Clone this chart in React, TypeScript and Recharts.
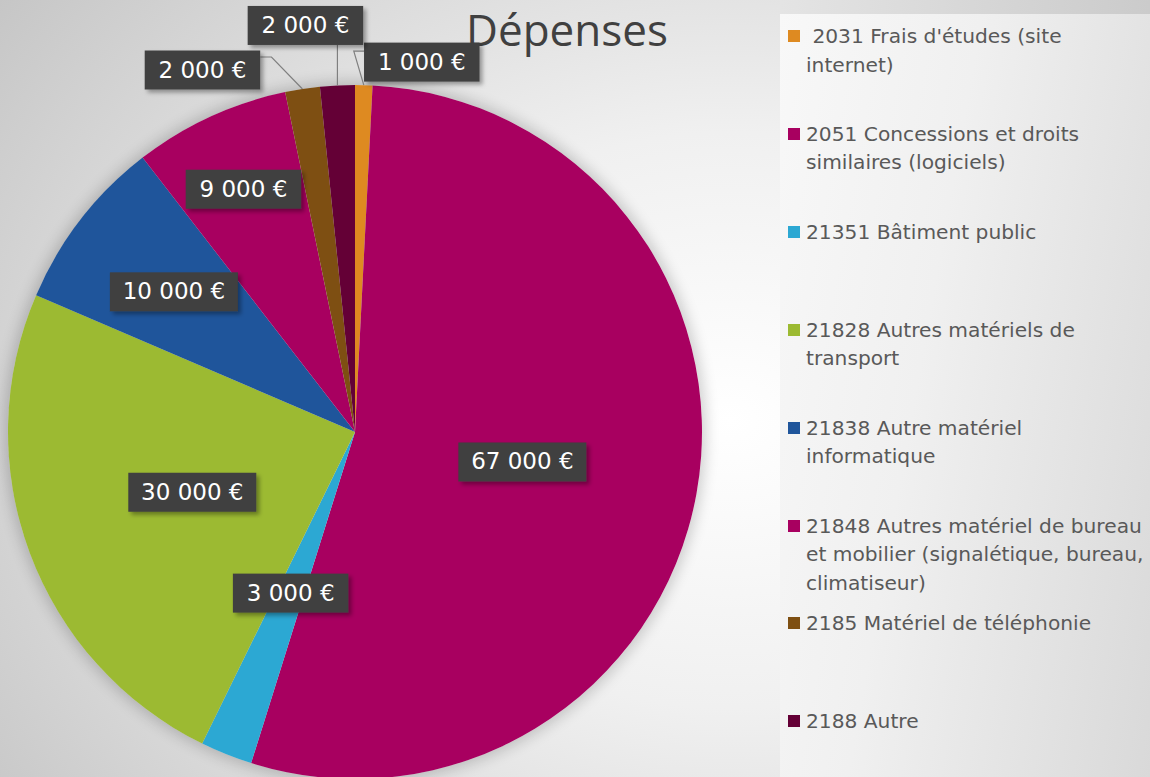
import { PieChart, Pie, Cell, Legend } from "recharts";

const categories = [
  " 2031 Frais d'études (site\ninternet)",
  "2051 Concessions et droits\nsimilaires (logiciels)",
  "21351 Bâtiment public",
  "21828 Autres matériels de\ntransport",
  "21838 Autre matériel\ninformatique",
  "21848 Autres matériel de bureau\net mobilier (signalétique, bureau,\nclimatiseur)",
  "2185 Matériel de téléphonie",
  "2188 Autre",
];
const values = [1000, 67000, 3000, 30000, 10000, 9000, 2000, 2000];
const valueLabels = ["1 000 €", "67 000 €", "3 000 €", "30 000 €", "10 000 €", "9 000 €", "2 000 €", "2 000 €"];
const COLORS = ["#DE8A21", "#A80060", "#2CA8D3", "#9CBA32", "#1F559B", "#A80060", "#7E4F12", "#640036"];

const data = categories.map((name, i) => ({ name, value: values[i] }));

const RAD = Math.PI / 180;

// label placement (layout only): inner labels sit at a fraction of the radius,
// outer labels are offset from the slice edge with a leader line
type Place =
  | { kind: "in"; r: number }
  | { kind: "out"; dx: number; dy: number; ex: number; ey: number; side: "left" | "right" | "bottom" };
const placement: Place[] = [
  { kind: "out", dx: 58, dy: -23, ex: -10, ey: -34, side: "left" },
  { kind: "in", r: 0.49 },
  { kind: "in", r: 0.5 },
  { kind: "in", r: 0.5 },
  { kind: "in", r: 0.66 },
  { kind: "in", r: 0.77 },
  { kind: "out", dx: -100, dy: -19, ex: -31, ey: -32, side: "right" },
  { kind: "out", dx: -32, dy: -60, ex: 0, ey: -40, side: "bottom" },
];

const renderLabel = (props: any) => {
  const { cx, cy, midAngle, outerRadius, index } = props;
  const text = valueLabels[index];
  const w = text.length * 12.5 + 28;
  const h = 39;
  const p = placement[index];
  const cos = Math.cos(-midAngle * RAD);
  const sin = Math.sin(-midAngle * RAD);
  let x: number;
  let y: number;
  let line: string | null = null;
  if (p.kind === "in") {
    x = cx + outerRadius * p.r * cos;
    y = cy + outerRadius * p.r * sin;
  } else {
    const ex = cx + outerRadius * cos;
    const ey = cy + outerRadius * sin;
    x = ex + p.dx;
    y = ey + p.dy;
    const bx = ex + p.ex;
    const by = ey + p.ey;
    let endX = bx;
    let endY = by;
    if (p.side === "left") endX = x - w / 2;
    if (p.side === "right") endX = x + w / 2;
    if (p.side === "bottom") endY = y + h / 2;
    line = `${ex},${ey} ${bx},${by} ${endX},${endY}`;
  }
  return (
    <g key={`lbl-${index}`}>
      {line && <polyline points={line} fill="none" stroke="#7f7f7f" strokeWidth={1.2} />}
      <rect x={x - w / 2} y={y - h / 2} width={w} height={h} fill="#404040" filter="url(#lblShadow)" />
      <text
        x={x}
        y={y + 1}
        textAnchor="middle"
        dominantBaseline="middle"
        fill="#ffffff"
        fontSize={23}
        fontFamily="'DejaVu Sans', sans-serif"
      >
        {text}
      </text>
    </g>
  );
};

const renderLegend = (props: any) => {
  const { payload } = props;
  return (
    <div style={{ position: "relative", width: 370, height: 763 }}>
      {payload.map((entry: any, i: number) => (
        <div
          key={`leg-${i}`}
          style={{ position: "absolute", left: 8, top: 8 + i * 97.9, display: "flex", alignItems: "flex-start" }}
        >
          <div style={{ width: 12, height: 12, background: entry.color, marginTop: 8, marginRight: 6 }} />
          <div
            style={{
              whiteSpace: "pre",
              fontFamily: "'DejaVu Sans', sans-serif",
              fontSize: 20.2,
              lineHeight: "28.5px",
              color: "#595959",
            }}
          >
            {entry.value}
          </div>
        </div>
      ))}
    </div>
  );
};

export default function App() {
  return (
    <div
      style={{
        position: "absolute",
        left: 0,
        top: 0,
        width: 1150,
        height: 777,
        overflow: "hidden",
        background:
          "radial-gradient(ellipse 900px 720px at 730px 420px, #ffffff 0%, #f0f0f0 40%, #d8d8d8 75%, #c6c6c6 100%)",
      }}
    >
      <div style={{ position: "absolute", left: 780, top: 0, width: 370, height: 14, background: "linear-gradient(90deg, #e4e4e4, #cbcbcb)" }} />
      <div
        style={{
          position: "absolute",
          left: 8,
          top: 85,
          width: 694,
          height: 694,
          borderRadius: "50%",
          boxShadow: "0 0 14px 4px rgba(0,0,0,0.18)",
        }}
      />
      <div
        style={{
          position: "absolute",
          left: 447,
          top: -1,
          width: 240,
          textAlign: "center",
          fontFamily: "'Open Sans', sans-serif",
          fontSize: 44,
          color: "#404040",
        }}
      >
        Dépenses
      </div>
      <PieChart
        width={1150}
        height={777}
        margin={{ top: 0, right: 0, bottom: 0, left: 0 }}
        style={{ position: "absolute", left: 0, top: 0 }}
      >
        <defs>
          <filter id="lblShadow" x="-20%" y="-30%" width="150%" height="170%">
            <feDropShadow dx="3" dy="3" stdDeviation="2" floodColor="#000" floodOpacity="0.35" />
          </filter>
        </defs>
        <Pie
          data={data}
          dataKey="value"
          nameKey="name"
          cx={355}
          cy={432}
          outerRadius={347}
          startAngle={90}
          endAngle={-270}
          stroke="none"
          label={renderLabel}
          labelLine={false}
          isAnimationActive={false}
        >
          {data.map((_, i) => (
            <Cell key={`cell-${i}`} fill={COLORS[i]} />
          ))}
        </Pie>
        <Legend
          content={renderLegend}
          wrapperStyle={{
            position: "absolute",
            left: 780,
            top: 14,
            width: 370,
            height: 763,
            background: "linear-gradient(100deg, #f8f8f8 0%, #f0f0f0 40%, #d9d9d9 100%)",
          }}
        />
      </PieChart>
    </div>
  );
}
